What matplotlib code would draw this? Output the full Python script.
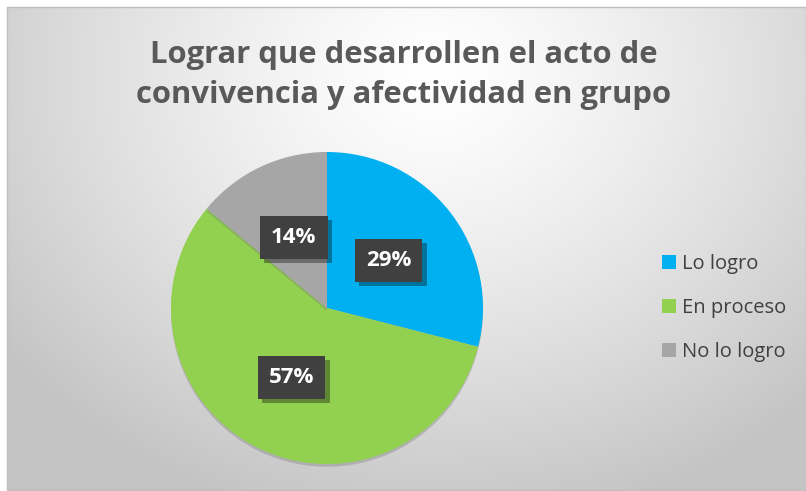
import numpy as np
import matplotlib
matplotlib.use('Agg')
import matplotlib.pyplot as plt
from matplotlib import patheffects as pe
from matplotlib.patches import Rectangle

# ── data ──────────────────────────────────────────────────────────────────
title = 'Lograr que desarrollen el acto de\nconvivencia y afectividad en grupo'
categories = ['Lo logro', 'En proceso', 'No lo logro']
values = [29, 57, 14]
colors = ['#00B0F0', '#92D050', '#A6A6A6']

W, H = 806, 491
fig = plt.figure(figsize=(W / 100, H / 100), dpi=100)
fig.patch.set_facecolor('white')

# ── background: radial gradient chart area ───────────────────────────────
bg = fig.add_axes([0, 0, 1, 1])
bg.set_xlim(0, W)
bg.set_ylim(H, 0)
bg.axis('off')
yy, xx = np.mgrid[0:H, 0:W]
d = np.sqrt(((xx - 430) / 1.0) ** 2 + ((yy - 70) / 0.85) ** 2) / 540
d = np.clip(d, 0, 1)
shade = 1.0 - 0.23 * d ** 1.3
img = np.dstack([shade, shade, shade])
bg.imshow(img, extent=(7, W, H - 1, 7), aspect='auto', zorder=0)
bg.add_patch(Rectangle((7, 7), W - 7, H - 8, fill=False, ec='#bfbfbf', lw=1))

bg.text(404, 75, title, ha='center', va='center', fontsize=22.3,
        fontweight='bold', color='#595959', family='Open Sans',
        linespacing=1.45)

# ── pie ───────────────────────────────────────────────────────────────────
ax = fig.add_axes([0, 0, 1, 1])
wedges, texts, autotexts = ax.pie(
    values, colors=colors, startangle=90, counterclock=False,
    center=(327, H - 308), radius=156, autopct='%1.0f%%',
    pctdistance=0.5, wedgeprops=dict(linewidth=0),
    textprops=dict(color='white', fontsize=16, fontweight='bold',
                   family='Open Sans'))
ax.set_xlim(0, W)
ax.set_ylim(0, H)
ax.set_aspect('auto')
ax.axis('off')
for w in wedges:
    w.set_path_effects([pe.SimplePatchShadow(offset=(0, -2), shadow_rgbFace='#777777',
                                             alpha=0.35), pe.Normal()])
for t in autotexts:
    t.set_bbox(dict(boxstyle='square,pad=0.5', facecolor='#404040',
                    edgecolor='none'))
    t.get_bbox_patch().set_path_effects([
        pe.SimplePatchShadow(offset=(3, -3), shadow_rgbFace='black', alpha=0.35),
        pe.Normal()])

# ── legend ────────────────────────────────────────────────────────────────
handles = [Rectangle((0, 0), 1, 1, fc=c, ec='none') for c in colors]
leg = ax.legend(handles, categories, loc='center left',
                bbox_to_anchor=(644 / W, 1 - 308 / H), frameon=False,
                prop=dict(family='Open Sans', size=14.5), labelcolor='#404040',
                handlelength=0.7, handleheight=0.7, handletextpad=0.3,
                labelspacing=1.2)

fig.savefig('out.png', dpi=100)
